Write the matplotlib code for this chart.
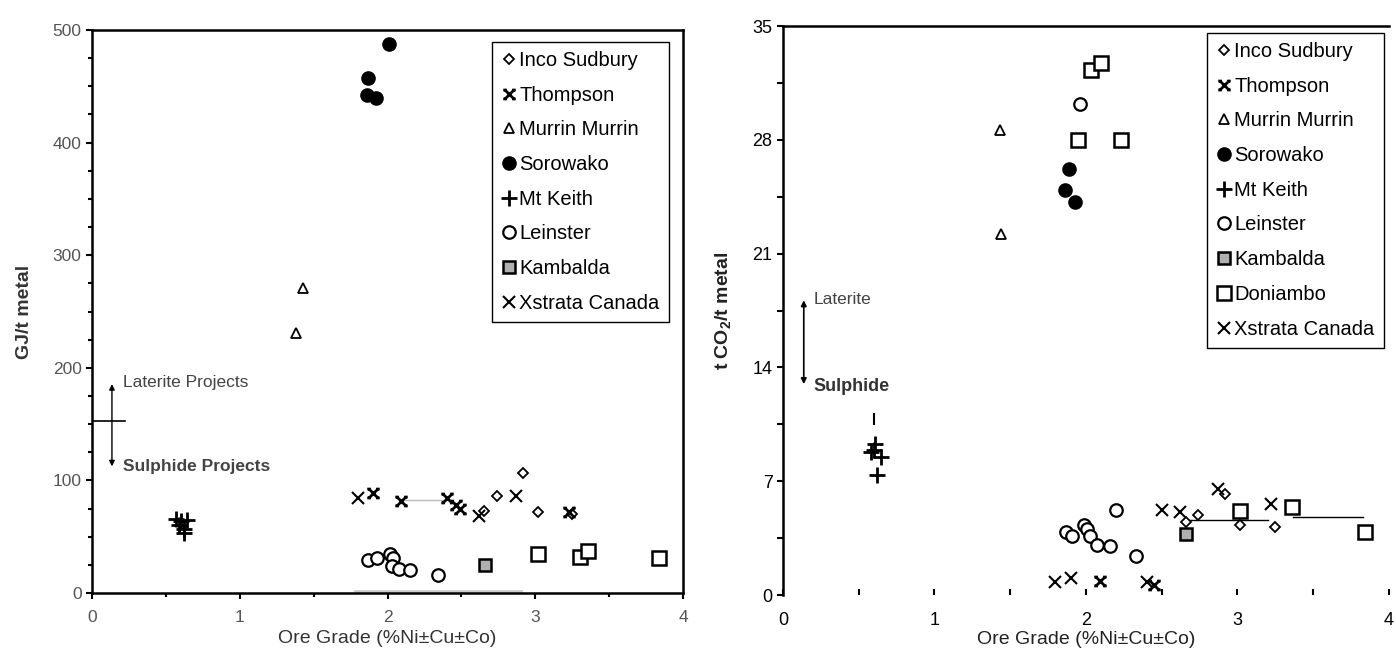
import matplotlib
matplotlib.use("Agg")
import matplotlib.pyplot as plt
from matplotlib.path import Path
from matplotlib.ticker import MultipleLocator

plt.rcParams['font.family'] = ['Liberation Sans', 'DejaVu Sans']
plt.rcParams['mathtext.fontset'] = 'custom'
plt.rcParams['mathtext.rm'] = 'Liberation Sans'
plt.rcParams['mathtext.default'] = 'regular'

# ---- left panel: energy (GJ/t metal) vs ore grade ----
inco_l_x = [2.65, 2.74, 2.92, 3.02, 3.25]
inco_l_y = [73, 86, 107, 72, 70]
thompson_l_x = [1.90, 2.09, 2.40, 2.46, 2.49, 3.23]
thompson_l_y = [89, 82, 84, 78, 75, 72]
murrin_l_x = [1.43, 1.38]
murrin_l_y = [271, 231]
soro_l_x = [2.01, 1.87, 1.86, 1.92]
soro_l_y = [488, 457, 442, 440]
mtkeith_l_x = [0.57, 0.60, 0.64, 0.59, 0.62, 0.62]
mtkeith_l_y = [66, 64, 65, 60, 57, 53]
leinster_l_x = [1.87, 1.93, 2.02, 2.04, 2.03, 2.08, 2.15, 2.34]
leinster_l_y = [29, 31, 35, 31, 24, 21, 20, 16]
kambalda_l_x = [2.66]
kambalda_l_y = [25]
squares_l_x = [3.02, 3.30, 3.36, 3.84]
squares_l_y = [35, 32, 37, 31]
xstrata_l_x = [1.80, 2.62, 2.87]
xstrata_l_y = [84, 68, 86]
trend_l_x = [2.10, 2.40]
trend_l_y = [83, 83]
base_l_x = [1.78, 2.90]
base_l_y = [2, 2]

# ---- right panel: t CO2/t metal vs ore grade ----
inco_r_x = [2.66, 2.74, 2.92, 3.02, 3.25]
inco_r_y = [4.5, 4.9, 6.2, 4.3, 4.2]
thompson_r_x = [2.09, 2.45]
thompson_r_y = [0.88, 0.62]
murrin_r_x = [1.43, 1.44]
murrin_r_y = [28.6, 22.2]
soro_r_x = [1.885, 1.86, 1.93]
soro_r_y = [26.2, 24.9, 24.2]
mtkeith_r_x = [0.58, 0.61, 0.65, 0.60, 0.62]
mtkeith_r_y = [8.8, 9.3, 8.5, 8.9, 7.4]
bar_r_x = [0.60]
bar_r_y = [10.8]
leinster_r_x = [1.96, 2.20, 1.87, 1.91, 1.99, 2.01, 2.03, 2.07, 2.16, 2.33]
leinster_r_y = [30.2, 5.2, 3.9, 3.6, 4.3, 4.05, 3.6, 3.1, 3.0, 2.4]
kambalda_r_x = [2.66]
kambalda_r_y = [3.75]
doniambo_r_x = [2.035, 2.10, 1.95, 2.23, 3.02, 3.36, 3.84]
doniambo_r_y = [32.3, 32.75, 28.0, 28.0, 5.15, 5.4, 3.9]
xstrata_r_x = [1.795, 1.90, 2.40, 2.50, 2.62, 2.875, 3.22]
xstrata_r_y = [0.82, 1.02, 0.82, 5.2, 5.1, 6.5, 5.6]
seg1_r_x = [2.69, 3.20]
seg1_r_y = [4.6, 4.6]
seg2_r_x = [3.37, 3.83]
seg2_r_y = [4.78, 4.78]

# x marker with little serifs, used for Thompson
M, L = Path.MOVETO, Path.LINETO
star_verts = [(-1, -1), (1, 1), (-1, 1), (1, -1),
              (-1.4, 1), (-0.6, 1), (0.6, 1), (1.4, 1),
              (-1.4, -1), (-0.6, -1), (0.6, -1), (1.4, -1)]
thompson_marker = Path(star_verts, [M, L] * 6)

fig = plt.figure(figsize=(13.96, 6.62), dpi=100)
ax1 = fig.add_axes([0.0659, 0.1042, 0.4234, 0.8505])
ax2 = fig.add_axes([0.5609, 0.1012, 0.4340, 0.8595])

open_kw = dict(ls='none', mfc='white', mec='black', color='black')


def draw(ax, inco, thom, murr, soro, mtk, lein, kamb, xstr, doni=None):
    ax.plot(*inco, marker='D', ms=5.5, mew=1.3, label='Inco Sudbury', **open_kw)
    ax.plot(*thom, marker=thompson_marker, ms=9, mew=2.0, ls='none', color='black', label='Thompson')
    ax.plot(*murr, marker='^', ms=7, mew=1.3, label='Murrin Murrin', **open_kw)
    ax.plot(*soro, marker='o', ms=9.5, ls='none', color='black', label='Sorowako')
    ax.plot(*mtk, marker='+', ms=11, mew=2.0, ls='none', color='black', label='Mt Keith')
    ax.plot(*lein, marker='o', ms=9, mew=1.6, label='Leinster', **open_kw)
    ax.plot(*kamb, marker='s', ms=9, mew=1.8, ls='none', mfc='#b0b0b0', mec='black', label='Kambalda')
    if doni is not None:
        ax.plot(*doni, marker='s', ms=10, mew=1.8, label='Doniambo', **open_kw)
    ax.plot(*xstr, marker='x', ms=8, mew=1.5, ls='none', color='black', label='Xstrata Canada')


# left panel
ax1.plot(trend_l_x, trend_l_y, color='#bbbbbb', lw=1)
ax1.plot(base_l_x, base_l_y, color='#cccccc', lw=2)
draw(ax1, (inco_l_x, inco_l_y), (thompson_l_x, thompson_l_y), (murrin_l_x, murrin_l_y),
     (soro_l_x, soro_l_y), (mtkeith_l_x, mtkeith_l_y), (leinster_l_x, leinster_l_y),
     (kambalda_l_x, kambalda_l_y), (xstrata_l_x, xstrata_l_y))
ax1.plot(squares_l_x, squares_l_y, marker='s', ms=10, mew=1.8, **open_kw)

ax1.set_xlim(0, 4)
ax1.set_ylim(0, 500)
ax1.xaxis.set_major_locator(MultipleLocator(1))
ax1.xaxis.set_minor_locator(MultipleLocator(0.5))
ax1.yaxis.set_major_locator(MultipleLocator(100))
ax1.yaxis.set_minor_locator(MultipleLocator(25))
ax1.tick_params(which='both', direction='out', width=1.5, labelsize=12.5, labelcolor='#555555')
ax1.tick_params(which='major', length=4)
ax1.tick_params(which='minor', length=3)
ax1.tick_params(axis='x', pad=8)
for s in ax1.spines.values():
    s.set_linewidth(1.8)
ax1.set_xlabel('Ore Grade (%Ni±Cu±Co)', fontsize=14, color='#333333', labelpad=4)
ax1.set_ylabel('GJ/t metal', fontsize=14, fontweight='bold', color='#333333', labelpad=14)

ax1.plot([0, 0.22], [153, 153], color='black', lw=1.2)
ax1.annotate('', xy=(0.135, 188), xytext=(0.135, 110),
             arrowprops=dict(arrowstyle='<|-|>', color='black', lw=1, mutation_scale=8))
ax1.text(0.21, 187, 'Laterite Projects', fontsize=12.5, color='#444444', va='center')
ax1.text(0.21, 112, 'Sulphide Projects', fontsize=12.5, color='#444444', va='center', fontweight='bold')

ax1.legend(loc='upper left', bbox_to_anchor=(0.677, 0.979), borderaxespad=0,
           fontsize=14.5, labelspacing=0.78, handletextpad=0.1, handlelength=0.8,
           borderpad=0.45, frameon=True, fancybox=False, edgecolor='black', framealpha=1)

# right panel
ax2.plot(seg1_r_x, seg1_r_y, color='black', lw=1)
ax2.plot(seg2_r_x, seg2_r_y, color='black', lw=1)
draw(ax2, (inco_r_x, inco_r_y), (thompson_r_x, thompson_r_y), (murrin_r_x, murrin_r_y),
     (soro_r_x, soro_r_y), (mtkeith_r_x, mtkeith_r_y), (leinster_r_x, leinster_r_y),
     (kambalda_r_x, kambalda_r_y), (xstrata_r_x, xstrata_r_y),
     doni=(doniambo_r_x, doniambo_r_y))
ax2.plot(bar_r_x, bar_r_y, marker='|', ms=9, mew=1.5, ls='none', color='black')

ax2.set_xlim(0, 4)
ax2.set_ylim(0, 35)
ax2.xaxis.set_major_locator(MultipleLocator(1))
ax2.xaxis.set_minor_locator(MultipleLocator(0.5))
ax2.yaxis.set_major_locator(MultipleLocator(7))
ax2.yaxis.set_minor_locator(MultipleLocator(3.5))
ax2.spines['bottom'].set_visible(False)
ax2.spines['right'].set_visible(False)
ax2.spines['left'].set_linewidth(1.8)
ax2.spines['top'].set_linewidth(1.8)
ax2.tick_params(which='both', direction='out', width=1.5, labelsize=13, labelcolor='black')
ax2.tick_params(which='major', length=4)
ax2.tick_params(which='minor', length=4)
ax2.tick_params(axis='x', which='both', direction='in', length=4, pad=12)
ax2.set_xlabel('Ore Grade (%Ni±Cu±Co)', fontsize=14, color='#222222', labelpad=2)
ax2.set_ylabel('t CO$_2$/t metal', fontsize=14, fontweight='bold', color='#222222', labelpad=14)

ax2.annotate('', xy=(0.137, 18.3), xytext=(0.137, 12.8),
             arrowprops=dict(arrowstyle='<|-|>', color='black', lw=1.2, mutation_scale=8))
ax2.text(0.2, 18.2, 'Laterite', fontsize=12.5, color='#444444', va='center')
ax2.text(0.2, 12.8, 'Sulphide', fontsize=13, color='#333333', va='center', fontweight='bold')

ax2.legend(loc='upper left', bbox_to_anchor=(0.70, 0.988), borderaxespad=0,
           fontsize=14.5, labelspacing=0.78, handletextpad=0.1, handlelength=0.8,
           borderpad=0.45, frameon=True, fancybox=False, edgecolor='black', framealpha=1)

fig.savefig('out.png', dpi=100)
